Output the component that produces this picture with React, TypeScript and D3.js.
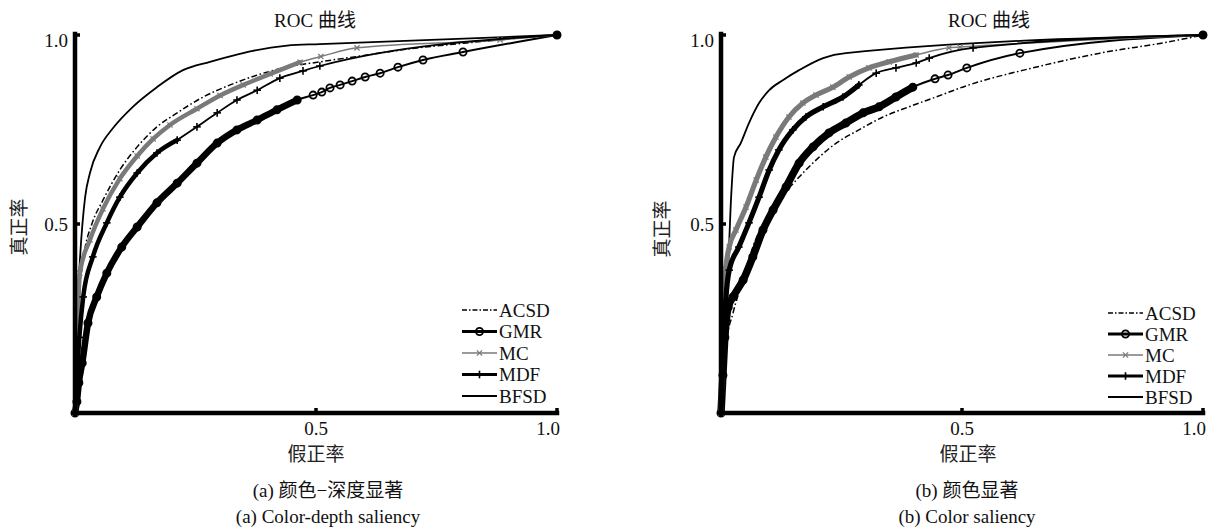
import React from 'react';
import * as d3 from 'd3';

type Pt = [number, number];

const seriesNames = ['ACSD', 'GMR', 'MC', 'MDF', 'BFSD'];
const tickValues = [0.5, 1.0];
const tickLabels = ['0.5', '1.0'];
const chartTitle = 'ROC 曲线';
const xLabel = '假正率';
const yLabel = '真正率';
const captionsA = ['(a) 颜色−深度显著', '(a) Color-depth saliency'];
const captionsB = ['(b) 颜色显著', '(b) Color saliency'];

// ---- (a) colour-depth saliency ----
const leftACSD: Pt[] = [[0, 0], [0.004, 0.2], [0.010, 0.33], [0.020, 0.43], [0.035, 0.50], [0.058, 0.563], [0.093, 0.643], [0.129, 0.704], [0.170, 0.757], [0.212, 0.794], [0.266, 0.836], [0.322, 0.868], [0.378, 0.894], [0.432, 0.913], [0.508, 0.929], [0.606, 0.947], [0.674, 0.960], [0.813, 0.979], [0.950, 0.995], [1, 1]];
const leftGMR: Pt[] = [[0, 0], [0.004, 0.03], [0.008, 0.08], [0.015, 0.132], [0.027, 0.238], [0.045, 0.307], [0.066, 0.370], [0.097, 0.439], [0.129, 0.492], [0.170, 0.556], [0.212, 0.608], [0.253, 0.661], [0.295, 0.714], [0.336, 0.749], [0.378, 0.775], [0.419, 0.802], [0.461, 0.828], [0.494, 0.841], [0.512, 0.849], [0.529, 0.860], [0.550, 0.868], [0.575, 0.878], [0.602, 0.889], [0.633, 0.899], [0.670, 0.915], [0.722, 0.934], [0.805, 0.955], [1, 1]];
const leftMC: Pt[] = [[0, 0], [0.004, 0.18], [0.010, 0.37], [0.031, 0.458], [0.058, 0.54], [0.093, 0.62], [0.129, 0.68], [0.162, 0.725], [0.197, 0.762], [0.253, 0.805], [0.301, 0.84], [0.349, 0.868], [0.405, 0.897], [0.467, 0.928], [0.510, 0.943], [0.585, 0.966], [0.882, 0.987], [1, 1]];
const leftMDF: Pt[] = [[0, 0], [0.004, 0.10], [0.009, 0.2], [0.017, 0.307], [0.037, 0.413], [0.066, 0.503], [0.093, 0.571], [0.129, 0.635], [0.170, 0.688], [0.212, 0.722], [0.253, 0.757], [0.295, 0.794], [0.336, 0.828], [0.378, 0.854], [0.425, 0.886], [0.473, 0.905], [0.508, 0.918], [1, 1]];
const leftBFSD: Pt[] = [[0, 0], [0.003, 0.15], [0.006, 0.30], [0.010, 0.40], [0.021, 0.571], [0.031, 0.635], [0.052, 0.704], [0.079, 0.754], [0.120, 0.810], [0.170, 0.862], [0.224, 0.907], [0.280, 0.929], [0.336, 0.948], [0.369, 0.958], [0.440, 0.972], [0.508, 0.976], [1, 1]];

// ---- (b) colour saliency ----
const rightACSD: Pt[] = [[0, 0], [0.004, 0.08], [0.010, 0.175], [0.025, 0.265], [0.046, 0.352], [0.066, 0.439], [0.093, 0.511], [0.120, 0.563], [0.156, 0.616], [0.197, 0.669], [0.239, 0.714], [0.286, 0.749], [0.336, 0.783], [0.390, 0.810], [0.446, 0.836], [0.510, 0.866], [0.647, 0.913], [0.786, 0.952], [0.925, 0.981], [1, 1]];
const rightGMR: Pt[] = [[0, 0], [0.004, 0.1], [0.008, 0.2], [0.015, 0.280], [0.025, 0.307], [0.046, 0.352], [0.066, 0.413], [0.087, 0.484], [0.108, 0.537], [0.135, 0.598], [0.162, 0.661], [0.191, 0.704], [0.224, 0.741], [0.259, 0.767], [0.295, 0.794], [0.328, 0.810], [0.363, 0.836], [0.398, 0.862], [0.444, 0.884], [0.471, 0.894], [0.510, 0.913], [0.620, 0.952], [1, 1]];
const rightMC: Pt[] = [[0, 0], [0.004, 0.2], [0.010, 0.38], [0.017, 0.439], [0.031, 0.484], [0.052, 0.545], [0.073, 0.616], [0.093, 0.677], [0.114, 0.730], [0.141, 0.783], [0.170, 0.820], [0.197, 0.841], [0.232, 0.862], [0.266, 0.889], [0.307, 0.913], [0.349, 0.929], [0.405, 0.947], [0.473, 0.966], [0.496, 0.968], [1, 1]];
const rightMDF: Pt[] = [[0, 0], [0.004, 0.15], [0.010, 0.3], [0.017, 0.378], [0.037, 0.439], [0.058, 0.503], [0.079, 0.571], [0.100, 0.643], [0.120, 0.696], [0.149, 0.749], [0.176, 0.783], [0.212, 0.810], [0.253, 0.836], [0.286, 0.868], [0.322, 0.899], [0.363, 0.913], [0.405, 0.926], [0.432, 0.939], [0.523, 0.966], [1, 1]];
const rightBFSD: Pt[] = [[0, 0], [0.004, 0.2], [0.010, 0.33], [0.015, 0.397], [0.021, 0.571], [0.027, 0.677], [0.041, 0.714], [0.058, 0.767], [0.079, 0.820], [0.100, 0.854], [0.129, 0.881], [0.162, 0.907], [0.212, 0.939], [0.259, 0.952], [1, 1]];

const leftData: Record<string, Pt[]> = { ACSD: leftACSD, GMR: leftGMR, MC: leftMC, MDF: leftMDF, BFSD: leftBFSD };
const rightData: Record<string, Pt[]> = { ACSD: rightACSD, GMR: rightGMR, MC: rightMC, MDF: rightMDF, BFSD: rightBFSD };

// range of FPR where the markers crowd into a thick band
const leftDense: Record<string, number> = { GMR: 0.47, MC: 0.47, MDF: 0.22 };
const rightDense: Record<string, number> = { GMR: 0.40, MC: 0.45, MDF: 0.30 };

type Style = { stroke: string; width: number; dash?: string; marker?: string; denseWidth?: number; legendWidth: number };
const STYLE: Record<string, Style> = {
  ACSD: { stroke: '#000', width: 1.5, dash: '6,2.5,1.6,2.5', legendWidth: 1.6 },
  GMR: { stroke: '#000', width: 2, marker: 'circle', denseWidth: 6.5, legendWidth: 3 },
  MC: { stroke: '#7a7a7a', width: 1.5, marker: 'x', denseWidth: 4.5, legendWidth: 1.6 },
  MDF: { stroke: '#000', width: 1.8, marker: 'plus', denseWidth: 4.5, legendWidth: 3 },
  BFSD: { stroke: '#000', width: 1.8, legendWidth: 2.2 },
};
const drawOrder = ['BFSD', 'ACSD', 'GMR', 'MC', 'MDF'];

const FONT = "'Liberation Serif', 'Times New Roman', 'Noto Sans CJK SC', serif";

type Layout = {
  x0: number; x1: number; y0: number; y1: number;
  titleX: number; yLabelX: number; yLabelY: number; xLabelX: number;
  capX: number; legX0: number; legX1: number; legY0: number; legDy: number;
  denseScale: number;
};

const leftLayout: Layout = { x0: 75, x1: 557, y0: 413, y1: 35, titleX: 315, yLabelX: 19, yLabelY: 227, xLabelX: 316, capX: 328, legX0: 462, legX1: 497, legY0: 310, legDy: 21.5, denseScale: 1 };
const rightLayout: Layout = { x0: 721, x1: 1203, y0: 413, y1: 35, titleX: 989, yLabelX: 662, yLabelY: 229, xLabelX: 968, capX: 967, legX0: 1108, legX1: 1143, legY0: 313, legDy: 21, denseScale: 1.15 };

function Marker({ type, x, y, color }: { type?: string; x: number; y: number; color: string }) {
  if (type === 'circle') return <circle cx={x} cy={y} r={3.6} fill="none" stroke={color} strokeWidth={1.8} />;
  if (type === 'x') return (
    <g stroke={color} strokeWidth={1.3}>
      <line x1={x - 2.6} y1={y - 2.6} x2={x + 2.6} y2={y + 2.6} />
      <line x1={x - 2.6} y1={y + 2.6} x2={x + 2.6} y2={y - 2.6} />
    </g>
  );
  if (type === 'plus') return (
    <g stroke={color} strokeWidth={1.6}>
      <line x1={x - 3.8} y1={y} x2={x + 3.8} y2={y} />
      <line x1={x} y1={y - 3.8} x2={x} y2={y + 3.8} />
    </g>
  );
  return null;
}

function Panel({ data, dense, L, captions }: { data: Record<string, Pt[]>; dense: Record<string, number>; L: Layout; captions: string[] }) {
  const x = d3.scaleLinear().domain([0, 1]).range([L.x0, L.x1]);
  const y = d3.scaleLinear().domain([0, 1]).range([L.y0, L.y1]);
  const line = d3.line<Pt>().x(d => x(d[0])).y(d => y(d[1])).curve(d3.curveMonotoneX);

  return (
    <g fontFamily={FONT} fill="#111">
      <text x={L.titleX} y={20} fontSize={19} textAnchor="middle" dominantBaseline="central">{chartTitle}</text>

      {drawOrder.map(name => {
        const s = STYLE[name];
        const pts = data[name];
        const lim = dense[name];
        const densePts = lim !== undefined ? pts.filter(p => p[0] <= lim) : [];
        return (
          <g key={name}>
            {densePts.length > 1 && s.denseWidth ? (
              <path d={line(densePts) || ''} fill="none" stroke={s.stroke} strokeWidth={s.denseWidth * L.denseScale} strokeLinejoin="round" strokeLinecap="round" />
            ) : null}
            <path d={line(pts) || ''} fill="none" stroke={s.stroke} strokeWidth={s.width} strokeDasharray={s.dash} strokeLinejoin="round" />
            {s.marker ? pts.map((p, i) => <Marker key={i} type={s.marker} x={x(p[0])} y={y(p[1])} color={s.stroke} />) : null}
          </g>
        );
      })}

      {/* axes */}
      <line x1={L.x0} y1={L.y0} x2={L.x0} y2={y(1) - 1} stroke="#000" strokeWidth={4.5} strokeLinecap="square" />
      <line x1={L.x0} y1={L.y0} x2={x(1)} y2={L.y0} stroke="#000" strokeWidth={4.5} strokeLinecap="square" />
      {tickValues.map((v, i) => (
        <g key={'t' + i}>
          <line x1={L.x0} y1={y(v)} x2={L.x0 + 5} y2={y(v)} stroke="#000" strokeWidth={3.5} />
          <line x1={x(v)} y1={L.y0} x2={x(v)} y2={L.y0 - 5} stroke="#000" strokeWidth={3.5} />
          <text x={L.x0 - 7} y={Math.max(y(v), L.y1 + 5)} fontSize={19} textAnchor="end" dominantBaseline="central">{tickLabels[i]}</text>
          <text x={v === 1 ? x(v) + 3 : x(v)} y={428} fontSize={19} textAnchor={v === 1 ? 'end' : 'middle'} dominantBaseline="central">{tickLabels[i]}</text>
        </g>
      ))}
      <circle cx={x(0)} cy={y(0)} r={3} fill="#000" />
      <circle cx={x(1)} cy={y(1)} r={4} fill="#000" />

      <text transform={`translate(${L.yLabelX},${L.yLabelY}) rotate(-90)`} fontSize={19} textAnchor="middle" dominantBaseline="central" fill="#222">{yLabel}</text>
      <text x={L.xLabelX} y={454} fontSize={19} textAnchor="middle" dominantBaseline="central" fill="#222">{xLabel}</text>
      <text x={L.capX} y={490} fontSize={19} textAnchor="middle" dominantBaseline="central">{captions[0]}</text>
      <text x={L.capX} y={516} fontSize={19} textAnchor="middle" dominantBaseline="central">{captions[1]}</text>

      {/* legend */}
      {seriesNames.map((name, i) => {
        const s = STYLE[name];
        const ly = L.legY0 + i * L.legDy;
        return (
          <g key={'l' + name}>
            <line x1={L.legX0} y1={ly} x2={L.legX1} y2={ly} stroke={s.stroke} strokeWidth={s.legendWidth} strokeDasharray={s.dash ? '5,2,1.5,2' : undefined} />
            <Marker type={s.marker} x={(L.legX0 + L.legX1) / 2} y={ly} color={s.stroke} />
            <text x={L.legX1 + 2} y={ly} fontSize={19} dominantBaseline="central">{name}</text>
          </g>
        );
      })}
    </g>
  );
}

export default function App() {
  return (
    <svg width={1217} height={530} style={{ position: 'absolute', left: 0, top: 0, background: '#fff' }}>
      <rect x={0} y={0} width={1217} height={530} fill="#fff" />
      <Panel data={leftData} dense={leftDense} L={leftLayout} captions={captionsA} />
      <Panel data={rightData} dense={rightDense} L={rightLayout} captions={captionsB} />
    </svg>
  );
}
